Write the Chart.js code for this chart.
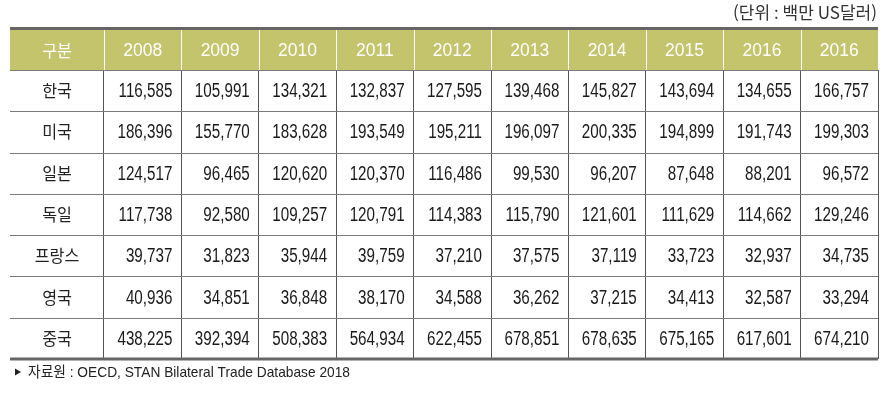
<!DOCTYPE html>
<html lang="ko">
<head>
<meta charset="UTF-8">
<title>Table</title>
<script src="https://cdn.jsdelivr.net/npm/chart.js"></script>
<style>
  html, body { margin: 0; padding: 0; background: #fff; }
  #wrap { width: 893px; height: 402px; position: relative; }
</style>
</head>
<body>
<div id="wrap"><canvas id="tableChart"></canvas></div>
<script>
// data
const headLabel = '구분';
const years = ['2008', '2009', '2010', '2011', '2012', '2013', '2014', '2015', '2016', '2016'];
const countries = ['한국', '미국', '일본', '독일', '프랑스', '영국', '중국'];
const korea   = [116585, 105991, 134321, 132837, 127595, 139468, 145827, 143694, 134655, 166757];
const usa     = [186396, 155770, 183628, 193549, 195211, 196097, 200335, 194899, 191743, 199303];
const japan   = [124517, 96465, 120620, 120370, 116486, 99530, 96207, 87648, 88201, 96572];
const germany = [117738, 92580, 109257, 120791, 114383, 115790, 121601, 111629, 114662, 129246];
const france  = [39737, 31823, 35944, 39759, 37210, 37575, 37119, 33723, 32937, 34735];
const uk      = [40936, 34851, 36848, 38170, 34588, 36262, 37215, 34413, 32587, 33294];
const china   = [438225, 392394, 508383, 564934, 622455, 678851, 678635, 675165, 617601, 674210];
const rows = [korea, usa, japan, germany, france, uk, china];
const unitText = '(단위 : 백만 US달러)';
const sourceText = '자료원 : OECD, STAN Bilateral Trade Database 2018';

const fmt = new Intl.NumberFormat('en-US');

// draw text squeezed horizontally by sx
function drawText(ctx, text, x, y, align, sx) {
  ctx.save();
  ctx.translate(x, y);
  ctx.scale(sx, 1);
  ctx.textAlign = align;
  ctx.fillText(text, 0, 0);
  ctx.restore();
}

const tablePlugin = {
  id: 'tableCells',
  beforeDraw(chart) {
    const { ctx, scales: { x } } = chart;
    const left = chart.options.layout.padding.left;
    ctx.save();
    ctx.fillStyle = '#c3c46c';
    ctx.fillRect(left, x.top, x.right - left, x.bottom - x.top);
    ctx.restore();
  },
  afterDraw(chart) {
    const { ctx, scales: { x, y } } = chart;
    const left = chart.options.layout.padding.left;
    const right = x.right;
    const colHalf = (x.right - x.left) / years.length / 2;
    const rowHalf = (y.bottom - y.top) / countries.length / 2;
    ctx.save();

    // white dividers in header
    ctx.strokeStyle = '#ffffff';
    ctx.lineWidth = 1;
    for (let i = 0; i < years.length; i++) {
      const px = Math.round(x.getPixelForValue(i) - colHalf) + 0.5;
      ctx.beginPath();
      ctx.moveTo(px, x.top);
      ctx.lineTo(px, x.bottom);
      ctx.stroke();
    }

    // horizontal row lines
    ctx.strokeStyle = '#7a7a7a';
    for (let r = 0; r < countries.length; r++) {
      const py = Math.round(y.getPixelForValue(r) - rowHalf) + 0.5;
      ctx.beginPath();
      ctx.moveTo(left, py);
      ctx.lineTo(right, py);
      ctx.stroke();
    }

    // thick top / bottom rules
    ctx.strokeStyle = '#666666';
    ctx.lineWidth = 3;
    ctx.beginPath();
    ctx.moveTo(left, x.top + 0.5);
    ctx.lineTo(right, x.top + 0.5);
    ctx.moveTo(left, y.bottom);
    ctx.lineTo(right, y.bottom);
    ctx.stroke();

    // header text
    const headY = (x.top + 2 + x.bottom) / 2 + 1;
    ctx.textBaseline = 'middle';
    ctx.fillStyle = '#ffffff';
    ctx.font = '17px "Noto Sans CJK KR"';
    drawText(ctx, headLabel, (left + y.right) / 2, headY, 'center', 0.95);
    ctx.font = '17.5px "Liberation Sans"';
    years.forEach((yr, i) => drawText(ctx, yr, x.getPixelForValue(i), headY, 'center', 1));

    // row labels
    ctx.fillStyle = '#222222';
    ctx.font = '17px "Noto Sans CJK KR"';
    countries.forEach((c, r) => drawText(ctx, c, (left + y.right) / 2, y.getPixelForValue(r), 'center', 0.95));

    // values
    ctx.fillStyle = '#1a1a1a';
    ctx.font = '20px "Liberation Sans"';
    rows.forEach((vals, r) => {
      vals.forEach((v, i) => {
        drawText(ctx, fmt.format(v), x.getPixelForValue(i) + colHalf - 9, y.getPixelForValue(r) + 1, 'right', 0.76);
      });
    });

    // unit note (top right)
    ctx.fillStyle = '#333333';
    ctx.font = '17px "Noto Sans CJK KR"';
    let sx = 144 / ctx.measureText(unitText).width;
    drawText(ctx, unitText, 877, 13, 'right', sx);

    // source note
    ctx.fillStyle = '#222222';
    ctx.beginPath();
    ctx.moveTo(15, 368.5);
    ctx.lineTo(21, 372);
    ctx.lineTo(15, 375.5);
    ctx.closePath();
    ctx.fill();
    ctx.font = '15px "Liberation Sans", "Noto Sans CJK KR"';
    sx = 322 / ctx.measureText(sourceText).width;
    drawText(ctx, sourceText, 28, 373, 'left', sx);

    ctx.restore();
  }
};

new Chart(document.getElementById('tableChart'), {
  type: 'bar',
  data: { labels: years, datasets: [] },
  options: {
    responsive: true,
    maintainAspectRatio: false,
    animation: false,
    layout: { padding: { left: 10, right: 15, top: 28, bottom: 43 } },
    plugins: { legend: { display: false }, tooltip: { enabled: false } },
    scales: {
      x: {
        type: 'category',
        position: 'top',
        labels: years,
        offset: true,
        ticks: { display: false },
        border: { display: false },
        grid: {
          offset: true,
          drawTicks: false,
          lineWidth: 1,
          color: ctx => ctx.index === years.length ? 'rgba(0,0,0,0)' : '#555555'
        },
        afterFit: scale => { scale.height = 42; }
      },
      y: {
        type: 'category',
        position: 'left',
        labels: countries,
        offset: true,
        ticks: { display: false },
        border: { display: false },
        grid: { display: false },
        afterFit: scale => { scale.width = 94; }
      }
    }
  },
  plugins: [tablePlugin]
});
</script>
</body>
</html>
